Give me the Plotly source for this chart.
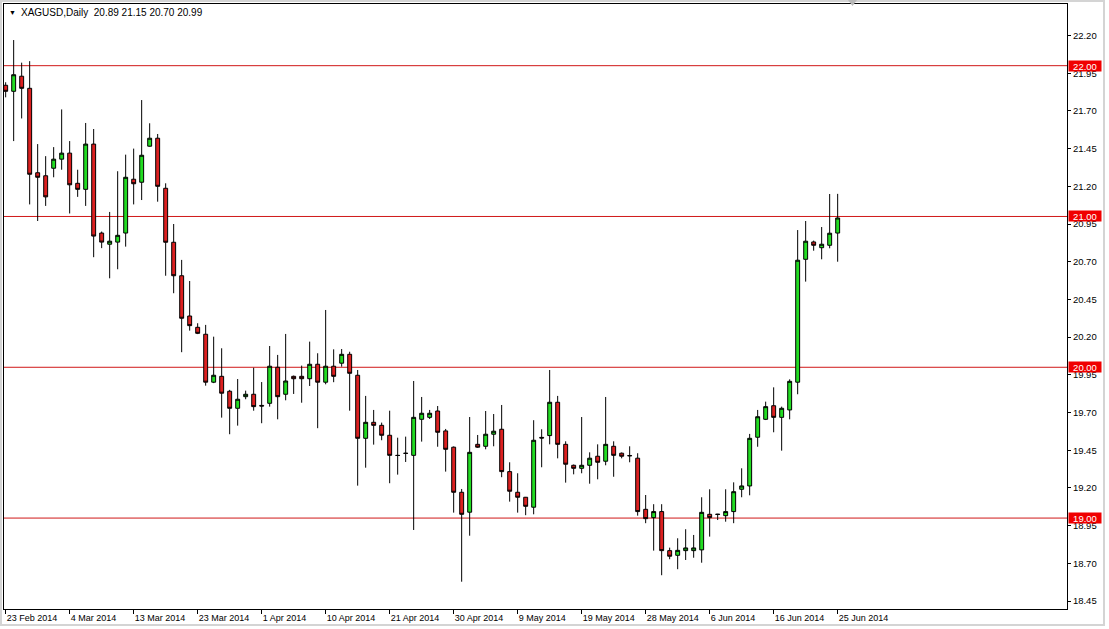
import pandas as pd
import plotly.graph_objects as go

# ---- data (XAGUSD daily) ----
first_day = "2014-02-23"
last_day = "2014-06-25"
holidays = ["2014-04-18"]

open_ = [21.87, 21.83, 21.93, 21.85, 21.29, 21.27, 21.32, 21.38, 21.42, 21.22,
         21.18, 21.48, 20.89, 20.816, 20.83, 20.89, 21.247, 21.227, 21.466, 21.519,
         21.187, 20.829, 20.607, 20.34, 20.265, 20.219, 19.901, 19.94, 19.841, 19.728,
         19.805, 19.821, 19.747, 19.761, 20.0, 19.821, 19.94, 19.94, 19.924, 20.02,
         19.901, 20.007, 20.027, 20.086, 19.947, 19.529, 19.635, 19.615, 19.549, 19.416,
         19.43, 19.416, 19.655, 19.668, 19.71, 19.578, 19.47, 19.171, 19.039, 19.489,
         19.476, 19.556, 19.589, 19.308, 19.171, 19.138, 19.072, 19.535, 19.547, 19.768,
         19.489, 19.35, 19.33, 19.35, 19.41, 19.377, 19.476, 19.43, 19.415, 19.397,
         19.058, 19.003, 19.043, 18.784, 18.753, 18.784, 18.784, 18.789, 19.025, 19.026,
         19.016, 19.043, 19.191, 19.213, 19.536, 19.655, 19.745, 19.668, 19.717, 19.901,
         20.716, 20.831, 20.793, 20.809, 20.89]
high = [21.89, 22.17, 22.02, 22.03, 21.48, 21.40, 21.46, 21.71, 21.50, 21.31,
        21.62, 21.58, 20.90, 21.03, 21.30, 21.41, 21.45, 21.772, 21.618, 21.547,
        21.22, 20.95, 20.712, 20.572, 20.292, 20.281, 20.203, 20.126, 19.85, 19.922,
        19.845, 19.997, 19.902, 20.141, 20.082, 20.221, 19.945, 20.011, 20.17, 20.093,
        20.38, 20.119, 20.121, 20.103, 19.982, 19.81, 19.717, 19.633, 19.712, 19.533,
        19.54, 19.909, 19.803, 19.717, 19.743, 19.591, 19.475, 19.193, 19.67, 19.551,
        19.71, 19.69, 19.75, 19.37, 19.297, 19.14, 19.649, 19.589, 19.982, 19.81,
        19.509, 19.355, 19.67, 19.436, 19.489, 19.803, 19.509, 19.435, 19.476, 19.43,
        19.153, 19.092, 19.092, 18.804, 18.866, 18.926, 18.888, 19.138, 19.191, 19.028,
        19.191, 19.237, 19.33, 19.558, 19.717, 19.772, 19.867, 19.739, 19.92, 20.91,
        20.97, 20.84, 20.93, 21.149, 21.15]
low = [21.79, 21.50, 21.65, 21.08, 20.97, 21.07, 21.26, 21.31, 21.02, 21.13,
       21.07, 20.73, 20.79, 20.59, 20.65, 20.80, 21.08, 21.109, 21.463, 21.098,
       20.607, 20.491, 20.10, 20.243, 20.22, 19.878, 19.895, 19.666, 19.556, 19.613,
       19.788, 19.712, 19.629, 19.739, 19.655, 19.781, 19.823, 19.765, 19.876, 19.596,
       19.887, 19.901, 20.004, 19.712, 19.215, 19.334, 19.487, 19.516, 19.231, 19.288,
       19.372, 18.921, 19.507, 19.657, 19.473, 19.308, 19.036, 18.578, 18.883, 19.465,
       19.456, 19.476, 19.271, 19.109, 19.036, 19.019, 19.025, 19.337, 19.489, 19.396,
       19.235, 19.29, 19.297, 19.228, 19.257, 19.35, 19.274, 19.396, 19.37, 19.016,
       18.966, 18.784, 18.621, 18.727, 18.661, 18.722, 18.737, 18.704, 18.877, 18.987,
       18.976, 18.966, 19.138, 19.151, 19.473, 19.65, 19.569, 19.447, 19.655, 19.821,
       20.568, 20.773, 20.716, 20.789, 20.70]
close = [21.83, 21.94, 21.85, 21.28, 21.26, 21.13, 21.38, 21.42, 21.21, 21.18,
         21.48, 20.87, 20.83, 20.836, 20.875, 21.26, 21.217, 21.406, 21.519, 21.20,
         20.829, 20.607, 20.325, 20.276, 20.225, 19.901, 19.947, 19.828, 19.728, 19.788,
         19.821, 19.739, 19.743, 20.007, 19.805, 19.909, 19.924, 19.924, 20.02, 19.901,
         20.007, 19.94, 20.086, 19.96, 19.529, 19.635, 19.615, 19.549, 19.416, 19.415,
         19.429, 19.668, 19.695, 19.695, 19.569, 19.456, 19.171, 19.025, 19.436, 19.47,
         19.556, 19.576, 19.308, 19.178, 19.138, 19.078, 19.516, 19.531, 19.768, 19.489,
         19.357, 19.33, 19.35, 19.397, 19.37, 19.489, 19.416, 19.41, 19.413, 19.043,
         18.996, 19.043, 18.784, 18.747, 18.786, 18.802, 18.802, 19.038, 19.003, 19.024,
         19.043, 19.175, 19.213, 19.529, 19.672, 19.739, 19.668, 19.728, 19.907, 20.71,
         20.836, 20.809, 20.816, 20.889, 20.99]

tick_dates = ["2014-02-23", "2014-03-04", "2014-03-13", "2014-03-23", "2014-04-01",
              "2014-04-10", "2014-04-21", "2014-04-30", "2014-05-09", "2014-05-19",
              "2014-05-28", "2014-06-06", "2014-06-16", "2014-06-25"]
tick_labels = ["23 Feb 2014", "4 Mar 2014", "13 Mar 2014", "23 Mar 2014", "1 Apr 2014",
               "10 Apr 2014", "21 Apr 2014", "30 Apr 2014", "9 May 2014", "19 May 2014",
               "28 May 2014", "6 Jun 2014", "16 Jun 2014", "25 Jun 2014"]
y_ticks = [18.45, 18.70, 18.95, 19.20, 19.45, 19.70, 19.95, 20.20, 20.45, 20.70,
           20.95, 21.20, 21.45, 21.70, 21.95, 22.20]
levels = [19.00, 20.00, 21.00, 22.00]

# trading calendar: Sunday..Friday sessions, Good Friday closed
days = pd.bdate_range(first_day, last_day, freq="C",
                      weekmask="Sun Mon Tue Wed Thu Fri", holidays=holidays)
dates = [d.strftime("%Y-%m-%d") for d in days]

W, H = 1109, 629
ML, MR, MT, MB = 4, 42, 4, 20
PW, PH = W - ML - MR, H - MT - MB
FONT = "Liberation Sans"

def px_x(p):
    return (p - ML) / PW

def px_y(p):
    return (H - MB - p) / PH

fig = go.Figure(go.Candlestick(
    x=dates, open=open_, high=high, low=low, close=close,
    increasing=dict(line=dict(color="black", width=1), fillcolor="#22DC22"),
    decreasing=dict(line=dict(color="black", width=1), fillcolor="#DC2020"),
    whiskerwidth=0, showlegend=False, hoverinfo="x+y",
))

shapes = []
annotations = []
for lv in levels:
    shapes.append(dict(type="line", xref="paper", x0=0, x1=1, yref="y", y0=lv, y1=lv,
                       line=dict(color="#D01818", width=1), layer="below"))
    annotations.append(dict(xref="paper", x=1, xanchor="left", xshift=1,
                            yref="y", y=lv, yanchor="middle",
                            text=f"{lv:.2f}", showarrow=False,
                            font=dict(family=FONT, size=9.5, color="white"),
                            bgcolor="#F00000", borderpad=0, width=32, height=10))

# window frame
shapes.append(dict(type="rect", xref="paper", yref="paper",
                   x0=px_x(1), x1=px_x(1104), y0=px_y(625), y1=px_y(1),
                   line=dict(color="#D4D4D4", width=2), layer="below"))
# chart shift marker on top border
shapes.append(dict(type="path", xref="paper", yref="paper",
                   path=f"M {px_x(848)} {px_y(0)} L {px_x(857)} {px_y(0)} L {px_x(852.5)} {px_y(6)} Z",
                   fillcolor="#B8B8B8", line=dict(width=0)))

# header
annotations.append(dict(xref="paper", yref="paper", x=px_x(12), y=px_y(12.5),
                        xanchor="center", yanchor="middle", showarrow=False,
                        text="▼", font=dict(family=FONT, size=7, color="black")))
annotations.append(dict(xref="paper", yref="paper", x=px_x(19), y=px_y(13),
                        xanchor="left", yanchor="middle", showarrow=False,
                        text=f"XAGUSD,Daily  {open_[-1]:.2f} {high[-1]:.2f} {low[-1]:.2f} {close[-1]:.2f}",
                        font=dict(family=FONT, size=10, color="black")))

spacing = 8.0
x0 = -(5.67 - ML) / spacing
x1 = x0 + PW / spacing

fig.update_layout(
    width=W, height=H,
    margin=dict(l=ML, r=MR, t=MT, b=MB, pad=0, autoexpand=False),
    paper_bgcolor="white", plot_bgcolor="white",
    shapes=shapes, annotations=annotations,
    showlegend=False,
    xaxis=dict(type="category", range=[x0, x1], rangeslider=dict(visible=False),
               automargin=False, tickangle=0,
               tickmode="array", tickvals=tick_dates, ticktext=tick_labels,
               ticks="outside", ticklen=4, tickcolor="black", tickwidth=1,
               ticklabelposition="outside right",
               showgrid=False, zeroline=False,
               showline=True, linecolor="black", linewidth=1, mirror=True,
               tickfont=dict(family=FONT, size=9, color="black")),
    yaxis=dict(side="right", range=[18.397, 22.409], automargin=False,
               tickmode="array", tickvals=y_ticks, ticktext=[f"{v:.2f}" for v in y_ticks],
               ticks="outside", ticklen=3, tickcolor="black", tickwidth=1,
               showgrid=False, zeroline=False,
               showline=True, linecolor="black", linewidth=1, mirror=True,
               tickfont=dict(family=FONT, size=9.5, color="black")),
)

fig.write_html("out.html", config={"displayModeBar": False},
               post_script="document.body.style.margin='0';document.body.style.overflow='hidden';")
